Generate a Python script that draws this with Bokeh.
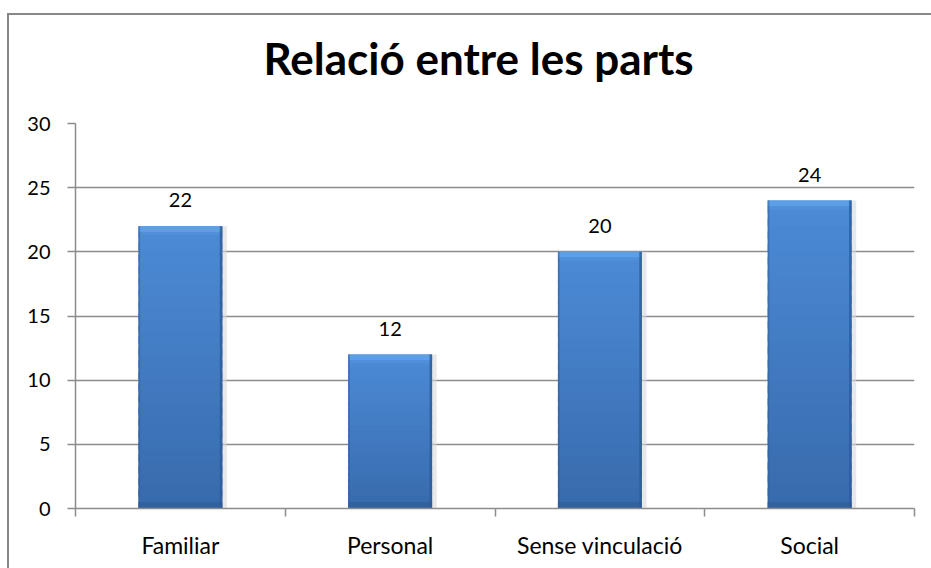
from bokeh.plotting import figure
from bokeh.models import Range1d, FixedTicker, LinearAxis, Title, ColumnDataSource
from bokeh.core.properties import value
from bokeh.embed import file_html
from bokeh.resources import INLINE

categories = ["Familiar", "Personal", "Sense vinculació", "Social"]
counts = [22, 12, 20, 24]
y_ticks = [0, 5, 10, 15, 20, 25, 30]
title_text = "Relació entre les parts"

FONT = "Lato"
n = len(categories)
xs = [i + 0.5 for i in range(n)]

p = figure(width=922, height=553, output_backend="svg", toolbar_location=None,
           title=title_text,
           x_range=Range1d(0, n), y_range=Range1d(y_ticks[0], y_ticks[-1]),
           frame_width=839, frame_height=385,
           min_border_left=66, min_border_right=17, min_border_top=108, min_border_bottom=60)
p.styles = {"border-left": "2px solid #888888", "border-top": "2px solid #888888",
            "margin-top": "13px", "margin-left": "7px"}
p.outline_line_color = None
p.background_fill_color = "white"
p.border_fill_color = "white"

# title (outermost) with a spacer between it and the frame
p.title.align = "left"
p.title.offset = 188
p.title.vertical_align = "bottom"
p.title.standoff = 0
p.title.text_font = FONT
p.title.text_font_size = "44px"
p.title.text_font_style = "bold"
p.title.text_color = "black"
spacer = Title(text=" ", text_font=FONT, text_font_size="10px", standoff=26)
p.add_layout(spacer, "above")

# grid
p.xgrid.grid_line_color = None
p.ygrid.ticker = FixedTicker(ticks=y_ticks)
p.ygrid.grid_line_color = "#8c8c8c"
p.ygrid.grid_line_width = 1.5

# y axis
p.yaxis.ticker = FixedTicker(ticks=y_ticks)
p.yaxis.axis_line_color = "#8c8c8c"
p.yaxis.axis_line_width = 1.5
p.yaxis.major_tick_line_color = "#8c8c8c"
p.yaxis.major_tick_line_width = 1.5
p.yaxis.major_tick_out = 8
p.yaxis.major_tick_in = 0
p.yaxis.minor_tick_line_color = None
p.yaxis.major_label_standoff = 17
p.yaxis.major_label_text_font = FONT
p.yaxis.major_label_text_font_size = "20px"
p.yaxis.major_label_text_color = "black"

# x axis: tick marks at category boundaries
p.xaxis.ticker = FixedTicker(ticks=list(range(n + 1)))
p.xaxis.axis_line_color = "#8c8c8c"
p.xaxis.axis_line_width = 1.5
p.xaxis.major_tick_line_color = "#8c8c8c"
p.xaxis.major_tick_line_width = 1.5
p.xaxis.major_tick_out = 8
p.xaxis.major_tick_in = 0
p.xaxis.minor_tick_line_color = None
p.xaxis.major_label_text_font_size = "0px"
p.xaxis.major_label_standoff = 0

# x axis: category labels at centers
lab_axis = LinearAxis(ticker=FixedTicker(ticks=xs),
                      major_label_overrides={x: c for x, c in zip(xs, categories)})
lab_axis.axis_line_color = None
lab_axis.major_tick_line_color = None
lab_axis.minor_tick_line_color = None
lab_axis.major_label_standoff = 8
lab_axis.major_label_text_font = FONT
lab_axis.major_label_text_font_size = "23px"
lab_axis.major_label_text_color = "black"
p.add_layout(lab_axis, "below")

# bars with vertical gradient
BW = 0.4
top_col = (0x4c, 0x8a, 0xd6)
bot_col = (0x38, 0x6b, 0xad)
N = 24
seg_x, seg_b, seg_t, seg_c = [], [], [], []
for x, v in zip(xs, counts):
    for k in range(N):
        f = k / (N - 1)
        c = tuple(int(round(bot_col[j] + (top_col[j] - bot_col[j]) * f)) for j in range(3))
        seg_x.append(x)
        seg_b.append(v * k / N)
        seg_t.append(min(v, v * (k + 1.6) / N))
        seg_c.append("#%02x%02x%02x" % c)

# soft shadow
p.vbar(x=[x + 0.012 for x in xs], top=counts, bottom=0, width=BW + 0.02,
       fill_color="#d8d8d8", line_color=None, fill_alpha=0.6)
p.vbar(x=seg_x, bottom=seg_b, top=seg_t, width=BW, fill_color=seg_c, line_color=None)
# top bevel
p.vbar(x=xs, top=counts, bottom=[v - 0.45 for v in counts], width=BW,
       fill_color="#5d9fe6", line_color=None)
p.vbar(x=xs, top=[v - 0.45 for v in counts], bottom=[v - 0.7 for v in counts], width=BW - 0.02,
       fill_color="#5392dc", line_color=None, fill_alpha=0.7)
# bottom bevel
p.vbar(x=xs, top=0.5, bottom=0, width=BW, fill_color="#3261a0", line_color=None)
# side edges
p.vbar(x=[x + BW / 2 - 0.006 for x in xs], top=counts, bottom=0, width=0.012,
       fill_color="#2e5b96", line_color=None, fill_alpha=0.8)
p.vbar(x=[x - BW / 2 + 0.004 for x in xs], top=counts, bottom=0, width=0.008,
       fill_color="#2e5b96", line_color=None, fill_alpha=0.5)

# data labels
src = ColumnDataSource(dict(x=xs, y=counts, t=[str(v) for v in counts]))
p.text(x="x", y="y", text="t", source=src, text_align="center", text_baseline="alphabetic",
       y_offset=-26, text_font=value(FONT), text_font_size="20px", text_color="black")

open("out.html", "w").write(file_html(p, INLINE))
